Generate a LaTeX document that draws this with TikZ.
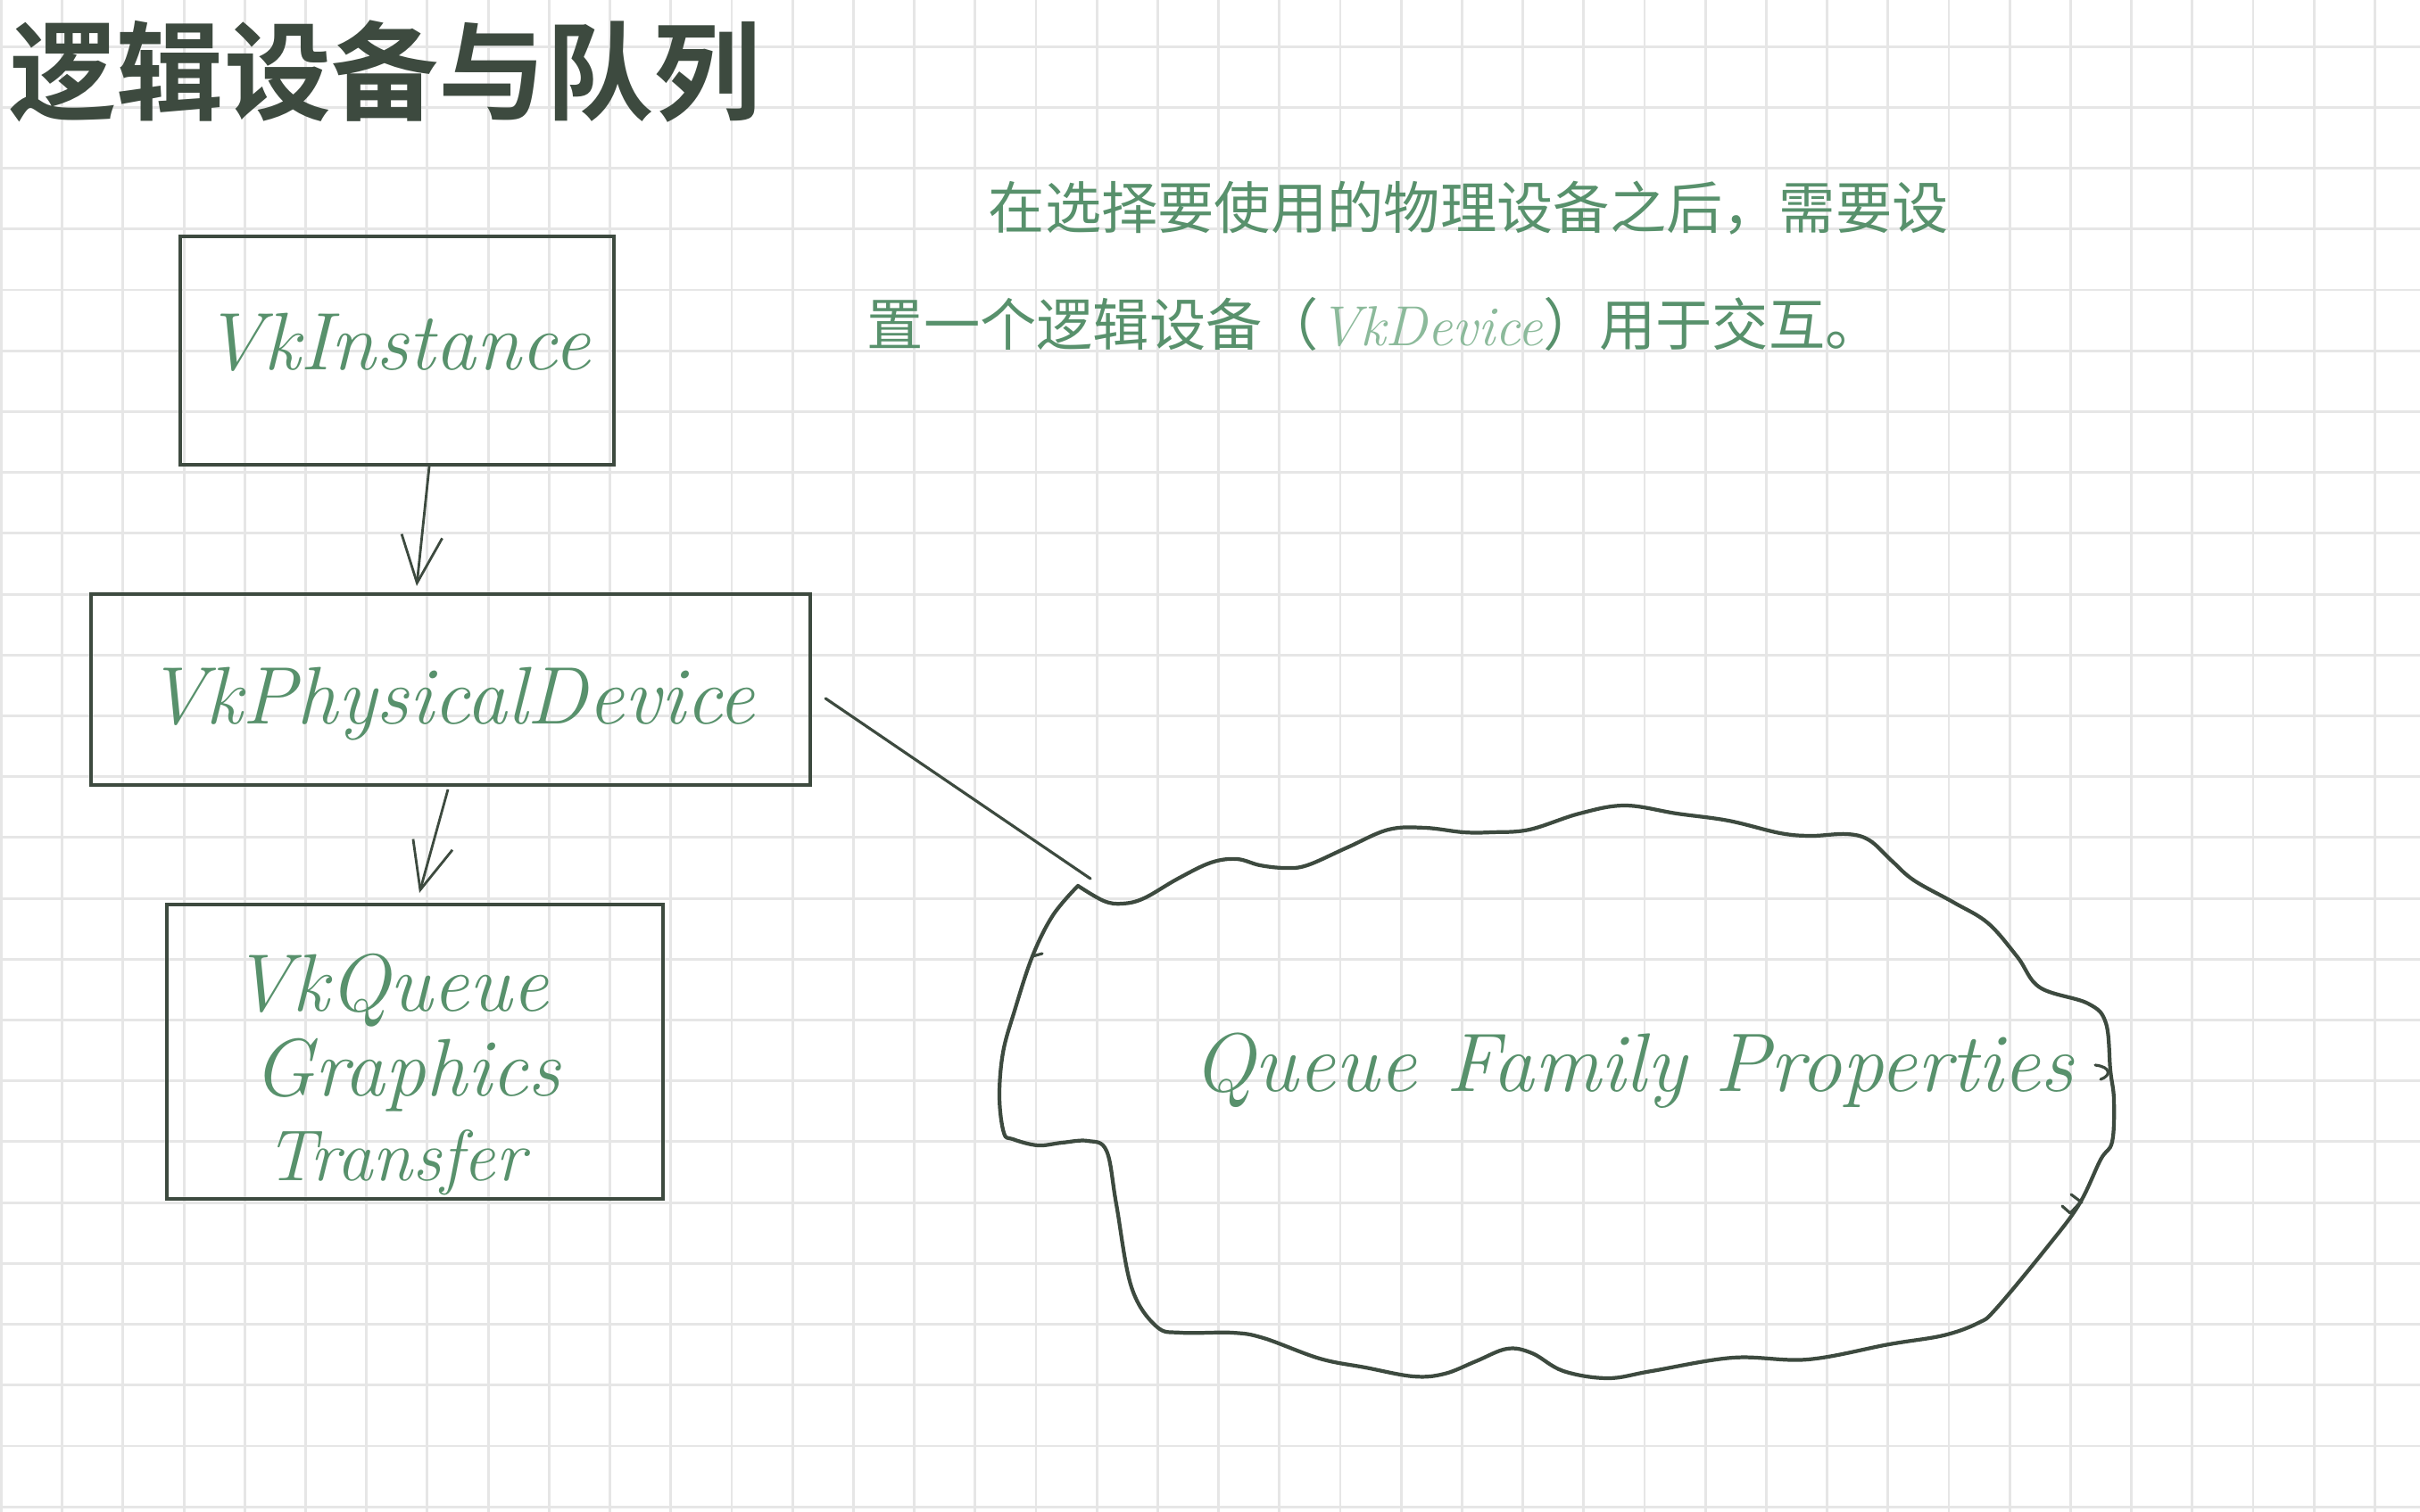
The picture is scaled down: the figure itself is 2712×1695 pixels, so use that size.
\documentclass[tikz,border=0pt]{standalone}
\usepackage{fontspec}
\usetikzlibrary{arrows.meta}
\newfontfamily\cjkfont{Noto Sans CJK SC}
\newfontfamily\cjktitlefont{Noto Sans CJK SC Bold}
\definecolor{inkdark}{RGB}{61,74,63}
\definecolor{inkgreen}{RGB}{88,145,108}
\definecolor{inklight}{RGB}{140,186,155}
\definecolor{gridgray}{RGB}{230,230,230}

\begin{document}
\begin{tikzpicture}[x=0.01cm,y=-0.01cm,
  gridline/.style={draw=gridgray,line width=0.8pt},
  notebox/.style={draw=inkdark,line width=1.1pt,text=inkgreen,inner sep=0pt,font=\itshape\fontsize{26}{27}\selectfont},
  sketcharrow/.style={draw=inkdark,line width=0.8pt,-{Straight Barb[length=15pt,width=13pt]}},
  inkline/.style={draw=inkdark,line width=1.2pt,line cap=round,line join=round}]

%Page: white sheet, 2712 x 1695
\fill[white] (0,0) rectangle (2712,1695);
\useasboundingbox (0,0) rectangle (2712,1695);

%Grid
\foreach \gx in {0,...,39} \draw[gridline] ({1.5+68.2*\gx},0) -- ({1.5+68.2*\gx},1695);
\foreach \gy in {0,...,24} \draw[gridline] (0,{52.3+68.2*\gy}) -- (2712,{52.3+68.2*\gy});

% Text Node
\node[anchor=west,inner sep=0pt,text=inkdark,font=\cjktitlefont\fontsize{34.2}{35}\selectfont] (title) at (10,80) {逻辑设备与队列};
% Text Node
\node[anchor=west,inner sep=0pt,text=inkgreen,font=\cjkfont\fontsize{18}{19}\selectfont] (noteA) at (1107,233) {在选择要使用的物理设备之后，需要设};
% Text Node
\node[anchor=west,inner sep=0pt,text=inkgreen,font=\cjkfont\fontsize{18}{19}\selectfont] (noteB) at (971,363) {置一个逻辑设备（{\color{inklight}\rmfamily\itshape VkDevice}）用于交互。};

%Boxes
\node[notebox,minimum width=4.86cm,minimum height=2.56cm,text depth=6pt] (instance) at (445,393) {VkInstance};
\node[notebox,minimum width=8.06cm,minimum height=2.14cm,text height=27pt,text depth=5pt] (physdev) at (505,773) {VkPhysicalDevice};
\node[notebox,minimum width=5.55cm,minimum height=3.30cm,align=left,text height=86pt,text depth=4pt] (queue) at (465,1179)
  {VkQueue\\\hspace*{0.25em}Graphics\mbox{\hspace*{0.45em}}\\\hspace*{0.4em}{\fontsize{23}{27}\selectfont Transfer}};

%Arrows
\draw[sketcharrow] ([xshift=0.36cm]instance.south) -- ([xshift=-0.38cm,yshift=0.07cm]physdev.north);
\draw[sketcharrow] ([xshift=-0.03cm,yshift=-0.03cm]physdev.south) -- ([xshift=0.05cm,yshift=0.11cm]queue.north);

%Straight Lines: device to cloud
\coordinate (linkend) at (1222,985);
\draw[inkline,line width=0.9pt] ([shift={(0.15cm,-0.1cm)}]physdev.east) -- (linkend);

%Cloud
\draw[inkline] plot[smooth,tension=0.6] coordinates {
  (1208,993) (1237,1010) (1258,1013) (1282,1007) (1320,985) (1357,967) (1386,963)
  (1412,970) (1440,973) (1465,970) (1510,950) (1556,930) (1597,928) (1640,933)
  (1672,933) (1714,930) (1770,912) (1821,903) (1879,912) (1937,920) (1995,934)
  (2030,937) (2070,935) (2095,942) (2120,965) (2145,987) (2190,1012) (2228,1035)
  (2261,1073) (2286,1107) (2340,1125) (2360,1147) (2365,1200) (2369,1233) (2367,1280)
  (2354,1300) (2330,1350) (2295,1397) (2237,1467) (2217,1483) (2178,1497) (2117,1507)
  (2026,1524) (1942,1522) (1851,1537) (1802,1545) (1752,1537) (1717,1517) (1689,1512)
  (1654,1526) (1619,1540) (1584,1543) (1530,1533) (1479,1523) (1416,1500) (1381,1494)
  (1324,1494) (1296,1487) (1268,1443) (1251,1350) (1240,1290) (1219,1279) (1190,1281)
  (1163,1284) (1135,1277) (1125,1270) (1120,1230) (1124,1180) (1137,1133) (1157,1072)
  (1180,1026) (1208,993)};
%small pen marks on the cloud
\draw[inkline,line width=0.9pt] (1157,1072) -- (1168,1069);
\draw[inkline,line width=0.9pt] (2348,1194) .. controls (2366,1196) and (2366,1206) .. (2354,1210);
\draw[inkline,line width=0.9pt] (2311,1352) -- (2320,1360) -- (2333,1346) (2321,1339) -- (2333,1348);

% Text Node
\node[anchor=base,inner sep=0pt,text=inkgreen,font=\itshape\fontsize{26.5}{27}\selectfont] (qfp) at (1830,1223) {Queue Family Properties};

\end{tikzpicture}
\end{document}
